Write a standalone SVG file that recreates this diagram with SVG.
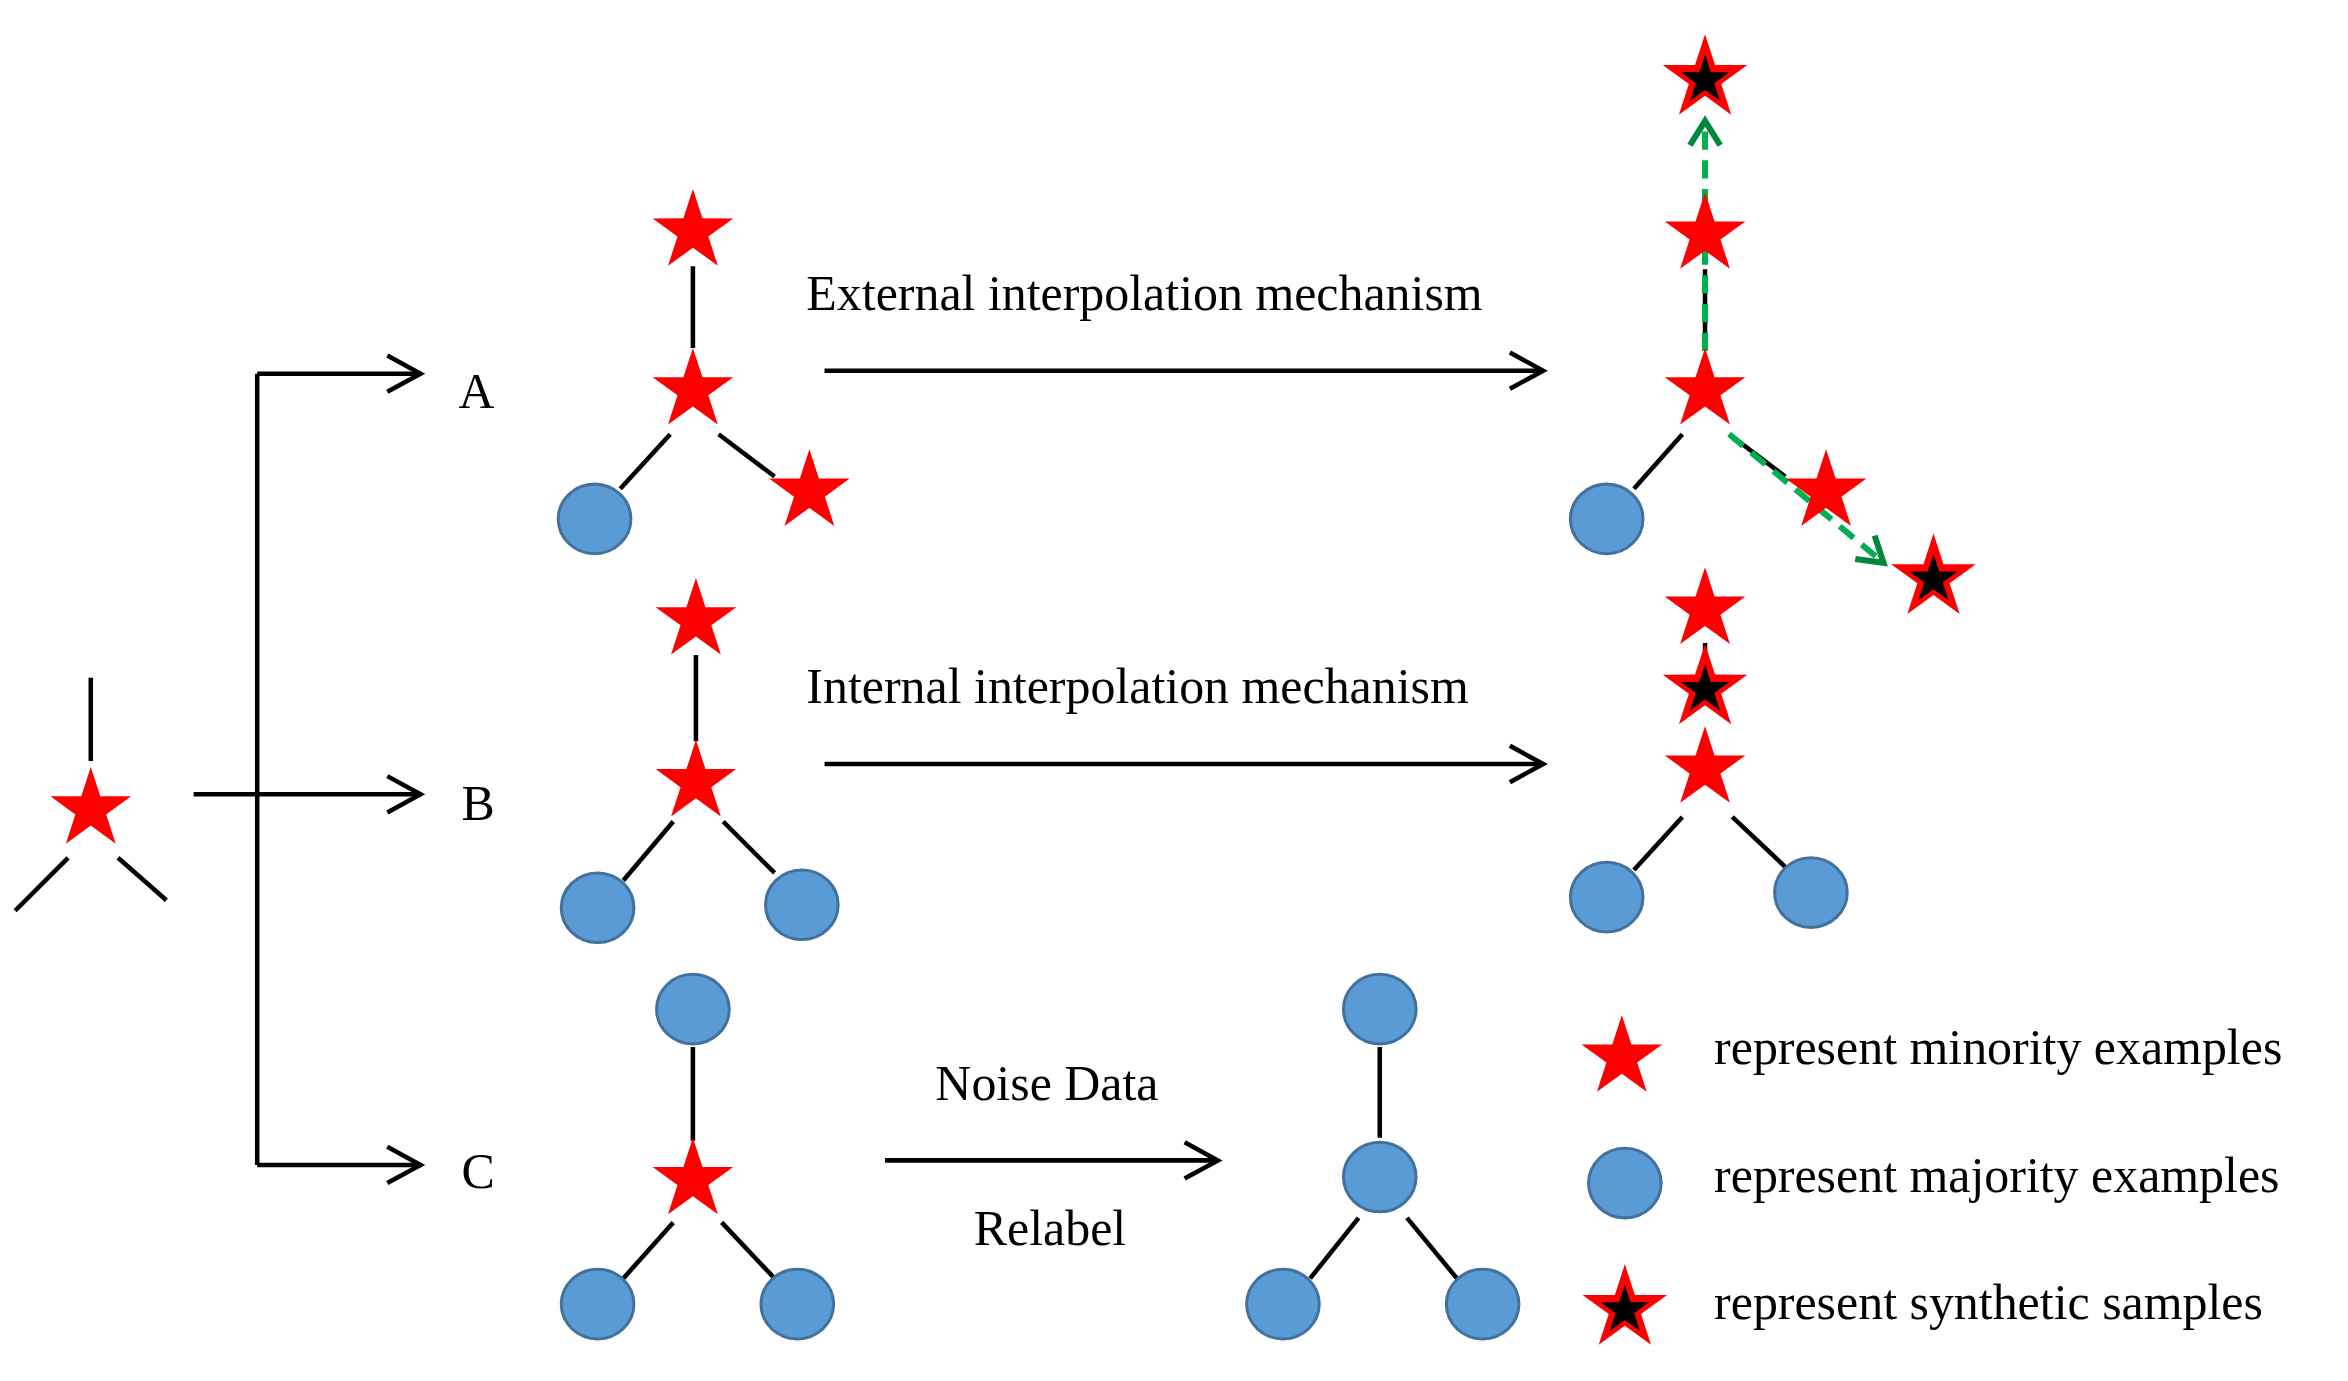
<svg xmlns="http://www.w3.org/2000/svg" width="2348" height="1381" viewBox="0 0 2348 1381">
<style>
.ln{stroke:#000;stroke-width:3;fill:none}
.ar{stroke:#000;stroke-width:3;fill:none;marker-end:url(#chev)}
.gd{stroke:#00b050;stroke-width:4;stroke-dasharray:12 7;fill:none;marker-end:url(#gchev)}
.c{fill:#5b9bd5;stroke:#41719c;stroke-width:2}
.t{font-family:"Liberation Serif",serif;font-size:33px;fill:#000}
</style>
<defs>
<path id="star" d="M0,-28 L6.29,-8.66 L26.63,-8.65 L10.18,3.31 L16.46,22.65 L0,10.7 L-16.46,22.65 L-10.18,3.31 L-26.63,-8.65 L-6.29,-8.66 Z" fill="#ff0000"/>
<g id="syn"><use href="#star" transform="scale(1.05)"/><path d="M0,-28 L6.29,-8.66 L26.63,-8.65 L10.18,3.31 L16.46,22.65 L0,10.7 L-16.46,22.65 L-10.18,3.31 L-26.63,-8.65 L-6.29,-8.66 Z" fill="#000" transform="translate(0,1) scale(0.6)"/></g>
<marker id="chev" markerWidth="14" markerHeight="14" refX="12" refY="7" orient="auto" markerUnits="userSpaceOnUse" overflow="visible"><path d="M-10,-5 L12,7 L-10,19" fill="none" stroke="#000" stroke-width="3"/></marker>
<marker id="gchev" markerWidth="14" markerHeight="14" refX="12" refY="7" orient="auto" markerUnits="userSpaceOnUse" overflow="visible"><path d="M-4,-3 L12,7 L-4,17" fill="none" stroke="#00873c" stroke-width="4"/></marker>
</defs>
<rect width="2348" height="1381" fill="#fff"/>
<g transform="scale(1.5129)">
<g id="connectors">
<path class="ln" d="M60,448 V503 M10,602 L45,567 M78,567 L110,595"/>
<path class="ln" d="M128,525 H170 M170,247 V770"/>
<path class="ar" d="M170,247 H278"/>
<path class="ar" d="M170,525 H278"/>
<path class="ar" d="M170,770 H278"/>
<path class="ar" d="M545,245 H1020"/>
<path class="ar" d="M545,505 H1020"/>
<path class="ar" d="M585,767 H805"/>
<path class="ln" d="M458,176 V230 M410,323 L443,287 M475,287 L512,315"/>
<path class="ln" d="M1127,178 V232 M1080,323 L1112,287 M1143,287 L1180,315"/>
<path class="gd" d="M1127,232 V80"/>
<path class="gd" d="M1143,287 L1245,372"/>
<path class="ln" d="M460,433 V490 M412,582 L445,543 M478,543 L512,577"/>
<path class="ln" d="M1127,425 V440 M1080,575 L1112,540 M1145,540 L1180,573"/>
<path class="ln" d="M458,692 V754 M412,845 L445,808 M477,808 L512,845"/>
<path class="ln" d="M912,692 V752 M866,845 L898,805 M930,805 L963,845"/>
</g>
<g id="origin"><use href="#star" x="60" y="535"/></g>
<g id="labels">
<text class="t" x="303" y="270">A</text>
<text class="t" x="305" y="542">B</text>
<text class="t" x="305" y="785">C</text>
<text class="t" x="533" y="205">External interpolation mechanism</text>
<text class="t" x="533" y="465">Internal interpolation mechanism</text>
<text class="t" x="692" y="727" text-anchor="middle">Noise Data</text>
<text class="t" x="694" y="823" text-anchor="middle">Relabel</text>
</g>
<g id="graphA">
<use href="#star" x="458" y="153"/><use href="#star" x="458" y="258"/><use href="#star" x="535" y="325"/>
<ellipse class="c" cx="393" cy="343" rx="24" ry="23"/>
</g>
<g id="graphA2">
<use href="#syn" x="1127" y="52"/><use href="#star" x="1127" y="155"/><use href="#star" x="1127" y="258"/><use href="#star" x="1207" y="325"/><use href="#syn" x="1278" y="382"/>
<ellipse class="c" cx="1062" cy="343" rx="24" ry="23"/>
</g>
<g id="graphB">
<use href="#star" x="460" y="410"/><use href="#star" x="460" y="517"/>
<ellipse class="c" cx="395" cy="600" rx="24" ry="23"/><ellipse class="c" cx="530" cy="598" rx="24" ry="23"/>
</g>
<g id="graphB2">
<use href="#star" x="1127" y="403"/><use href="#syn" x="1127" y="455"/><use href="#star" x="1127" y="508"/>
<ellipse class="c" cx="1062" cy="593" rx="24" ry="23"/><ellipse class="c" cx="1197" cy="590" rx="24" ry="23"/>
</g>
<g id="graphC">
<ellipse class="c" cx="458" cy="667" rx="24" ry="23"/><use href="#star" x="458" y="780"/>
<ellipse class="c" cx="395" cy="862" rx="24" ry="23"/><ellipse class="c" cx="527" cy="862" rx="24" ry="23"/>
</g>
<g id="graphC2">
<ellipse class="c" cx="912" cy="667" rx="24" ry="23"/><ellipse class="c" cx="912" cy="778" rx="24" ry="23"/>
<ellipse class="c" cx="848" cy="862" rx="24" ry="23"/><ellipse class="c" cx="980" cy="862" rx="24" ry="23"/>
</g>
<g id="legend">
<use href="#star" x="1072" y="699"/>
<ellipse class="c" cx="1074" cy="782" rx="24" ry="23"/>
<use href="#syn" x="1074" y="865"/>
<text class="t" x="1133" y="703">represent minority examples</text>
<text class="t" x="1133" y="788">represent majority examples</text>
<text class="t" x="1133" y="872">represent synthetic samples</text>
</g>
</g>
</svg>
